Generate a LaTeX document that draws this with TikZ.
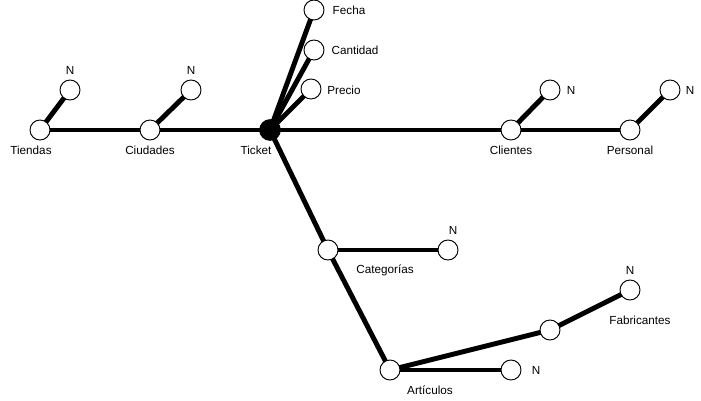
\documentclass[tikz,border=0pt]{standalone}
\usepackage{fontspec}
\setmainfont{Liberation Sans}
\usetikzlibrary{backgrounds}

\begin{document}
\begin{tikzpicture}[
    x=0.03cm, y=-0.03cm,
    font=\fontsize{10}{12}\selectfont,
    ent/.style={circle, draw, fill=white, minimum size=0.6cm, inner sep=0pt, line width=0.8pt},
    hub/.style={ent, fill=black, minimum size=0.62cm},
    link/.style={line width=4.2pt},
    lbl/.style={inner sep=0pt}
]
\useasboundingbox (0,0) rectangle (701,401);

% hub and dimensions along the main axis
\node[hub] (ticket) at (270,130) {};
\node[ent] (tiendas) at (40,130) {};
\node[ent] (tiendasN) at (70,90) {};
\node[ent] (ciudades) at (150,130) {};
\node[ent] (ciudadesN) at (191,90) {};
\node[ent] (clientes) at (511,130) {};
\node[ent] (clientesN) at (550,90) {};
\node[ent] (personal) at (630,130) {};
\node[ent] (personalN) at (670,90) {};

% measures
\node[ent] (fecha) at (314,10) {};
\node[ent] (cantidad) at (314,50) {};
\node[ent] (precio) at (311,89) {};

% lower branch
\node[ent] (categorias) at (328,250) {};
\node[ent] (categoriasN) at (448,250) {};
\node[ent] (articulos) at (390,370) {};
\node[ent] (articulosN) at (511,370) {};
\node[ent] (fabricantes) at (550,330) {};
\node[ent] (fabricantesN) at (630,290) {};

% texts
\node[lbl] (tiendasL) at (31,150) {Tiendas};
\node[lbl] (tiendasNL) at (70,70) {N};
\node[lbl] (ciudadesL) at (150,150) {Ciudades};
\node[lbl] (ciudadesNL) at (191,70) {N};
\node[lbl] (ticketL) at (256,150) {Ticket};
\node[lbl] (clientesL) at (511,150) {Clientes};
\node[lbl] (clientesNL) at (571,90) {N};
\node[lbl] (personalL) at (630,150) {Personal};
\node[lbl] (personalNL) at (690,90) {N};
\node[lbl] (fechaL) at (349,10) {Fecha};
\node[lbl] (cantidadL) at (355,50) {Cantidad};
\node[lbl] (precioL) at (344,90) {Precio};
\node[lbl] (categoriasL) at (385,270) {Categorías};
\node[lbl] (categoriasNL) at (453,230) {N};
\node[lbl] (articulosL) at (430,390) {Artículos};
\node[lbl] (articulosNL) at (536,370) {N};
\node[lbl] (fabricantesL) at (640,320) {Fabricantes};
\node[lbl] (fabricantesNL) at (630,270) {N};

\begin{scope}[on background layer]
\draw[link] (tiendas.center) -- (ciudades.center) -- (ticket.center) -- (clientes.center) -- (personal.center);
\draw[link] (tiendas.center) -- (tiendasN.center);
\draw[link] (ciudades.center) -- (ciudadesN.center);
\draw[link] (clientes.center) -- (clientesN.center);
\draw[link] (personal.center) -- (personalN.center);
\draw[link] (ticket.center) -- (fecha.center);
\draw[link] (ticket.center) -- (cantidad.center);
\draw[link] (ticket.center) -- (precio.center);
\draw[link] (ticket.center) -- (categorias.center) -- (articulos.center);
\draw[link] (categorias.center) -- (categoriasN.center);
\draw[link] (articulos.center) -- (articulosN.center);
\draw[link] (articulos.center) -- (fabricantes.center) -- (fabricantesN.center);
\end{scope}
\end{tikzpicture}
\end{document}
